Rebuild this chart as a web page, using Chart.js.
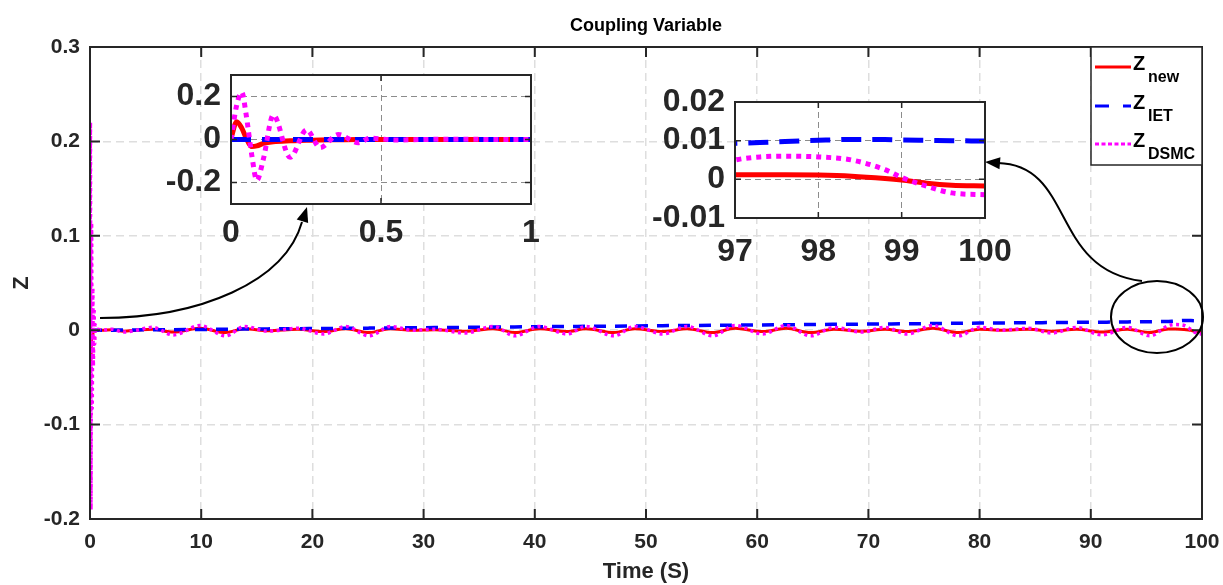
<!DOCTYPE html>
<html>
<head>
<meta charset="utf-8">
<script src="https://cdn.jsdelivr.net/npm/chart.js@4.4.0/dist/chart.umd.min.js"></script>
<style>
  html, body { margin: 0; padding: 0; background: #fff; }
  #wrap { position: relative; width: 1223px; height: 585px; }
  .box { position: absolute; }
</style>
</head>
<body>
<div id="wrap">
  <div class="box" style="left:0;top:0;width:1223px;height:585px"><canvas id="mainChart"></canvas></div>
  <div class="box" style="left:140px;top:45px;width:420px;height:215px"><canvas id="zoomStart"></canvas></div>
  <div class="box" style="left:620px;top:70px;width:420px;height:205px"><canvas id="zoomEnd"></canvas></div>
</div>
<script>
// time (s) and the three coupling variables
const time = [
  0, 0.019, 0.036, 0.05, 0.069, 0.086, 0.108, 0.141, 0.197, 0.252,
  0.297, 0.358, 0.424, 0.463, 0.55, 0.7, 1, 2, 3, 4.2,
  5.6, 7.5, 9.9, 12.2, 13.9, 16, 18.7, 21, 23, 25.1,
  27, 29, 31, 33.7, 36.3, 38.2, 40.4, 42.9, 44.6, 47.1,
  49, 51.5, 53.7, 56, 58, 60.5, 62.6, 64.8, 66.9, 69.4,
  71.5, 73.5, 75.8, 78.1, 80, 82, 84.4, 86.5, 88.7, 91,
  93.3, 95.3, 97, 97.3, 97.6, 98, 98.4, 98.8, 99, 99.3,
  99.6, 100
];
const zNew = [
  0.005, 0.083, 0.053, 0.008, -0.033, -0.03, -0.018, -0.01, -0.006, -0.004,
  -0.002, -0.001, 0, 0, 0, 0, 0, 0.0005, -0.001, 0,
  0.001, -0.002, 0.002, -0.0025, 0.0015, -0.0005, 0.001, -0.0015, 0.0015, -0.0025,
  0.0015, 0, 0.0005, -0.0012, 0.0015, -0.0025, 0.0015, -0.0015, 0.0015, -0.0025,
  0.0015, -0.0015, 0.0015, -0.0025, 0.002, -0.0015, 0.002, -0.0025, 0.001, -0.001,
  0.001, -0.0015, 0.002, -0.0025, 0.001, 0, 0.001, -0.001, 0.001, -0.002,
  0.001, -0.0025, 0.0012, 0.0012, 0.0012, 0.0011, 0.0008, 0.0002, -0.0002, -0.001,
  -0.0015, -0.0017
];
const zIET = [
  0, 0, 0, 0, 0, 0, 0, 0, 0, 0,
  0, 0, 0, 0, 0, 0, 0, 0, 0.0002, 0.0003,
  0.0004, 0.0006, 0.0008, 0.001, 0.0012, 0.0014, 0.0016, 0.0018, 0.002, 0.0022,
  0.0024, 0.0026, 0.0028, 0.003, 0.0033, 0.0035, 0.0037, 0.0039, 0.0041, 0.0043,
  0.0045, 0.0048, 0.005, 0.0052, 0.0054, 0.0056, 0.0058, 0.006, 0.0062, 0.0064,
  0.0066, 0.0068, 0.0071, 0.0073, 0.0075, 0.0077, 0.0079, 0.0081, 0.0083, 0.0085,
  0.0088, 0.009, 0.0093, 0.0095, 0.0098, 0.0101, 0.0103, 0.0103, 0.0102, 0.0101,
  0.01, 0.0099
];
const zDSMC = [
  0, 0.16, 0.22, 0.12, -0.07, -0.19, -0.09, 0.114, -0.083, 0.045,
  -0.038, 0.023, -0.015, 0.006, -0.002, 0.001, 0, 0.001, -0.002, 0,
  0.003, -0.005, 0.005, -0.006, 0.004, -0.001, 0.002, -0.004, 0.004, -0.006,
  0.004, 0, 0.001, -0.003, 0.004, -0.006, 0.004, -0.004, 0.004, -0.006,
  0.004, -0.004, 0.004, -0.006, 0.005, -0.004, 0.005, -0.006, 0.003, -0.002,
  0.003, -0.004, 0.005, -0.006, 0.003, 0, 0.002, -0.003, 0.003, -0.005,
  0.003, -0.006, 0.005, 0.0058, 0.006, 0.0058, 0.005, 0.0025, 0.0005, -0.0018,
  -0.0035, -0.004
];
const seriesSubs = ['new', 'IET', 'DSMC'];
const seriesColors = ['#ff0000', '#0000ff', '#ff00ff'];

const mainXTicks = [0, 10, 20, 30, 40, 50, 60, 70, 80, 90, 100];
const mainYTicks = [-0.2, -0.1, 0, 0.1, 0.2, 0.3];
const startXTicks = [0, 0.5, 1];
const startYTicks = [-0.2, 0, 0.2];
const endXTicks = [97, 98, 99, 100];
const endYTicks = [-0.01, 0, 0.01, 0.02];

const FONT = '"Liberation Sans", Arial, Helvetica, sans-serif';
const INK = '#262626';
Chart.defaults.font.family = FONT;

// white plot area, box on all four sides and inward ticks (matlab look)
const frame = {
    id: 'frame',
    beforeDraw(chart, args, opts) {
        if (!opts.fill) return;
        const { ctx, chartArea: a } = chart;
        ctx.save();
        ctx.fillStyle = '#fff';
        ctx.fillRect(a.left, a.top, a.right - a.left, a.bottom - a.top);
        ctx.restore();
    },
    afterDraw(chart, args, opts) {
        const { ctx, chartArea: a, scales: { x, y } } = chart;
        ctx.save();
        ctx.strokeStyle = INK;
        ctx.lineWidth = opts.tickWidth;
        ctx.beginPath();
        x.ticks.forEach(t => {
            const px = x.getPixelForValue(t.value);
            ctx.moveTo(px, a.bottom); ctx.lineTo(px, a.bottom - opts.tick);
            ctx.moveTo(px, a.top); ctx.lineTo(px, a.top + opts.tick);
        });
        y.ticks.forEach(t => {
            const py = y.getPixelForValue(t.value);
            ctx.moveTo(a.left, py); ctx.lineTo(a.left + opts.tick, py);
            ctx.moveTo(a.right, py); ctx.lineTo(a.right - opts.tick, py);
        });
        ctx.stroke();
        ctx.lineWidth = opts.boxWidth;
        ctx.strokeRect(a.left, a.top, a.right - a.left, a.bottom - a.top);
        ctx.restore();
    }
};

function arrowHead(ctx, tipX, tipY, fromX, fromY) {
    const ang = Math.atan2(tipY - fromY, tipX - fromX);
    const len = 15, half = 6;
    ctx.beginPath();
    ctx.moveTo(tipX, tipY);
    ctx.lineTo(tipX - len * Math.cos(ang) + half * Math.sin(ang), tipY - len * Math.sin(ang) - half * Math.cos(ang));
    ctx.lineTo(tipX - len * Math.cos(ang) - half * Math.sin(ang), tipY - len * Math.sin(ang) + half * Math.cos(ang));
    ctx.closePath();
    ctx.fill();
}

// title, zoom arrows, circle and the legend with subscripts
const decor = {
    id: 'decor',
    afterDraw(chart) {
        const { ctx, chartArea: a } = chart;
        ctx.save();
        ctx.fillStyle = '#000';
        ctx.font = `bold 18px ${FONT}`;
        ctx.textAlign = 'center';
        ctx.textBaseline = 'middle';
        ctx.fillText('Coupling Variable', (a.left + a.right) / 2, 26);

        ctx.strokeStyle = '#000';
        ctx.lineWidth = 2;
        ctx.beginPath();
        ctx.moveTo(100, 318);
        ctx.bezierCurveTo(200, 318, 285, 282, 302, 222);
        ctx.stroke();
        arrowHead(ctx, 307, 207, 299, 232);

        ctx.beginPath();
        ctx.moveTo(1142, 281);
        ctx.bezierCurveTo(1050, 270, 1075, 165, 998, 163);
        ctx.stroke();
        arrowHead(ctx, 985, 162, 1010, 164);

        ctx.beginPath();
        ctx.ellipse(1157, 317, 46, 36, 0, 0, Math.PI * 2);
        ctx.stroke();

        // legend
        const lw = 111, lh = 118, lx = a.right - lw, ly = a.top;
        ctx.fillStyle = '#fff';
        ctx.fillRect(lx, ly, lw, lh);
        ctx.strokeStyle = INK;
        ctx.lineWidth = 1.5;
        ctx.strokeRect(lx, ly, lw, lh);
        const rows = [20, 59, 97];
        const dashes = [[], [14, 14], [4, 2.5]];
        ctx.textAlign = 'left';
        ctx.textBaseline = 'alphabetic';
        rows.forEach((r, i) => {
            const yy = ly + r;
            ctx.strokeStyle = seriesColors[i];
            ctx.lineWidth = 3;
            ctx.setLineDash(dashes[i]);
            ctx.beginPath();
            ctx.moveTo(lx + 4, yy);
            ctx.lineTo(lx + 40, yy);
            ctx.stroke();
            ctx.setLineDash([]);
            ctx.fillStyle = '#000';
            ctx.font = `bold 20px ${FONT}`;
            ctx.fillText('Z', lx + 42, yy + 3);
            ctx.font = `bold 16px ${FONT}`;
            ctx.fillText(seriesSubs[i], lx + 57, yy + 15);
        });
        ctx.restore();
    }
};

function makeChart(id, o) {
    const values = [zNew, zIET, zDSMC];
    const datasets = values.map((vals, i) => ({
        label: 'Z_' + seriesSubs[i],
        data: time.map((t, k) => ({ x: t, y: vals[k] })),
        borderColor: seriesColors[i],
        borderWidth: o.lineWidths[i],
        borderDash: o.lineDashes[i],
        borderCapStyle: 'butt',
        pointRadius: 0,
        fill: false,
        cubicInterpolationMode: 'monotone',
        order: 2 - i
    }));
    const tickFont = { family: FONT, size: o.fontSize, weight: 'bold' };
    const zeroPad = s => { s.paddingLeft = 0; s.paddingRight = 0; s.paddingTop = 0; s.paddingBottom = 0; };
    return new Chart(document.getElementById(id), {
        type: 'line',
        data: { datasets },
        options: {
            responsive: true,
            maintainAspectRatio: false,
            devicePixelRatio: 1,
            animation: false,
            events: [],
            layout: { padding: o.padding },
            plugins: {
                legend: { display: false },
                tooltip: { enabled: false },
                frame: o.frame
            },
            scales: {
                x: {
                    type: 'linear',
                    min: o.xTicks[0],
                    max: o.xTicks[o.xTicks.length - 1],
                    afterBuildTicks: s => { s.ticks = o.xTicks.map(v => ({ value: v })); },
                    afterFit: s => { s.height = o.xHeight; zeroPad(s); },
                    ticks: { callback: v => String(v), color: INK, font: tickFont, padding: o.xPad, maxRotation: 0, autoSkip: false },
                    grid: { color: o.gridColor, lineWidth: o.gridWidth, drawTicks: false },
                    border: { display: false, dash: o.gridDash },
                    title: o.xTitle || { display: false }
                },
                y: {
                    type: 'linear',
                    min: o.yMin,
                    max: o.yMax,
                    afterBuildTicks: s => { s.ticks = o.yTicks.map(v => ({ value: v })); },
                    afterFit: s => { s.width = o.yWidth; zeroPad(s); },
                    ticks: { callback: v => String(v), color: INK, font: tickFont, padding: 10, autoSkip: false },
                    grid: { color: o.gridColor, lineWidth: o.gridWidth, drawTicks: false },
                    border: { display: false, dash: o.gridDash },
                    title: o.yTitle || { display: false }
                }
            }
        },
        plugins: [frame].concat(o.extra || [])
    });
}

makeChart('mainChart', {
    xTicks: mainXTicks, yTicks: mainYTicks, yMin: -0.2, yMax: 0.3,
    padding: { top: 47, right: 21, left: 0, bottom: 0 },
    xHeight: 66, yWidth: 90, xPad: 11, fontSize: 21,
    lineWidths: [3, 3.5, 3.5], lineDashes: [[], [12, 9], [3, 3.5]],
    gridColor: '#dedede', gridWidth: 1.5, gridDash: [8, 5],
    frame: { fill: false, tick: 10, tickWidth: 2, boxWidth: 2 },
    xTitle: { display: true, text: 'Time (S)', color: INK, font: { family: FONT, size: 22, weight: 'bold' }, padding: { top: 0, bottom: 0 } },
    yTitle: { display: true, text: 'Z', color: INK, font: { family: FONT, size: 22, weight: 'bold' }, padding: { top: 9, bottom: 0 } },
    extra: [decor]
});

makeChart('zoomStart', {
    xTicks: startXTicks, yTicks: startYTicks, yMin: -0.3, yMax: 0.3,
    padding: { top: 30, right: 29, left: 0, bottom: 0 },
    xHeight: 56, yWidth: 91, xPad: 10, fontSize: 32,
    lineWidths: [5, 5, 5], lineDashes: [[], [20, 11], [5, 5]],
    gridColor: '#8c8c8c', gridWidth: 1, gridDash: [6, 4],
    frame: { fill: true, tick: 6, tickWidth: 1.5, boxWidth: 2 }
});

makeChart('zoomEnd', {
    xTicks: endXTicks, yTicks: endYTicks, yMin: -0.01, yMax: 0.02,
    padding: { top: 32, right: 55, left: 0, bottom: 0 },
    xHeight: 57, yWidth: 115, xPad: 15, fontSize: 32,
    lineWidths: [5, 5, 5], lineDashes: [[], [20, 11], [5, 5]],
    gridColor: '#8c8c8c', gridWidth: 1, gridDash: [6, 4],
    frame: { fill: true, tick: 6, tickWidth: 1.5, boxWidth: 2 }
});
</script>
</body>
</html>
